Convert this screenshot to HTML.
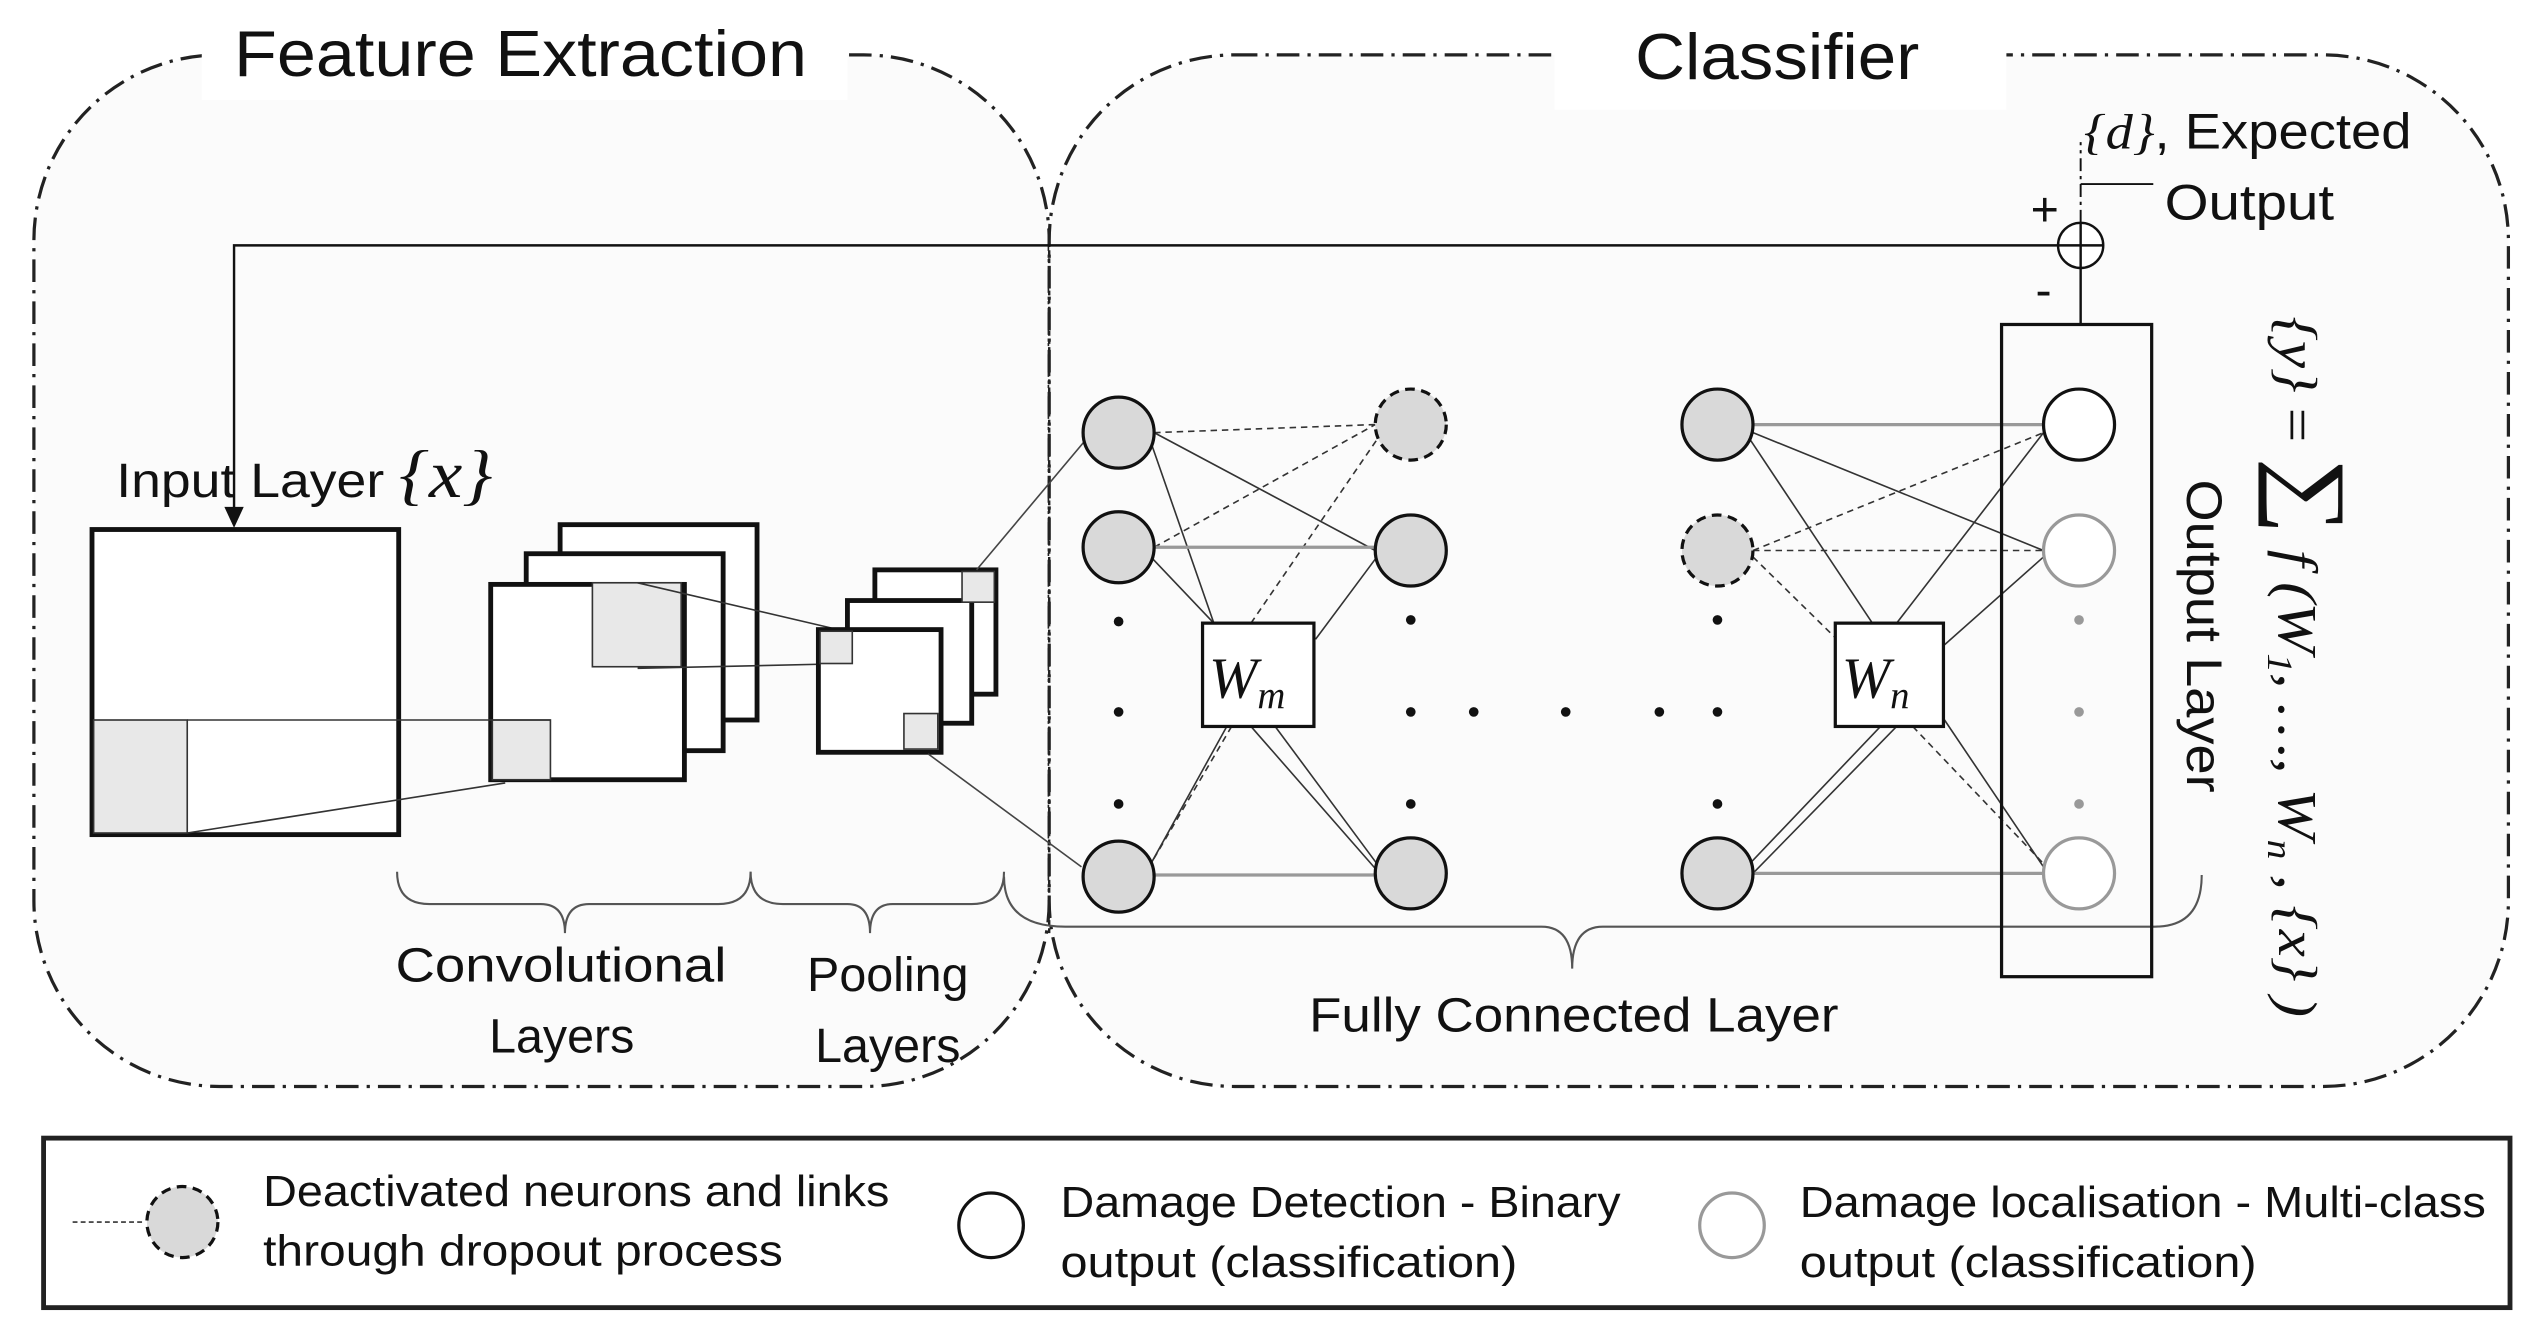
<!DOCTYPE html>
<html><head><meta charset="utf-8"><style>
html,body{margin:0;padding:0;background:#fff;}
svg{display:block;}
text{font-family:"Liberation Sans",sans-serif;fill:#111;}
.it{font-family:"Liberation Serif",serif;font-style:italic;}
</style></head><body>
<svg width="2531" height="1327" viewBox="0 0 1568 822" preserveAspectRatio="none" xmlns="http://www.w3.org/2000/svg">
<rect width="1568" height="822" fill="#fff"/>
<rect x="21" y="34" width="629" height="639" rx="115" fill="#fbfbfb" stroke="#222" stroke-width="2" stroke-dasharray="14,5,2,5"/>
<rect x="650" y="34" width="904" height="639" rx="115" fill="#fbfbfb" stroke="#222" stroke-width="2" stroke-dasharray="14,5,2,5"/>
<rect x="125" y="0" width="400" height="62" fill="#fff"/>
<rect x="963" y="0" width="280" height="68" fill="#fff"/>
<text x="145" y="47" font-size="40" textLength="355" lengthAdjust="spacingAndGlyphs">Feature Extraction</text>
<text x="1013" y="49" font-size="40" textLength="176" lengthAdjust="spacingAndGlyphs">Classifier</text>
<line x1="650" y1="150" x2="650" y2="580" stroke="#222" stroke-width="1.5" stroke-dasharray="3,2"/>
<polyline points="1276,152 145,152 145,318" fill="none" stroke="#111" stroke-width="1.5"/>
<polygon points="139,314 151,314 145,327" fill="#111"/>
<circle cx="1289" cy="152" r="14" fill="#fff" stroke="#111" stroke-width="1.5"/>
<line x1="1275" y1="152" x2="1303" y2="152" stroke="#111" stroke-width="1.5"/>
<line x1="1289" y1="138" x2="1289" y2="166" stroke="#111" stroke-width="1.5"/>
<line x1="1289" y1="138" x2="1289" y2="88" stroke="#111" stroke-width="1.2" stroke-dasharray="8,3,2,3"/>
<line x1="1289" y1="114" x2="1334" y2="114" stroke="#111" stroke-width="1.2"/>
<line x1="1289" y1="166" x2="1289" y2="201" stroke="#111" stroke-width="1.5"/>
<text x="1258" y="140" font-size="30">+</text>
<text x="1261" y="190" font-size="30">-</text>
<text x="1291" y="92" font-size="31" textLength="203" lengthAdjust="spacingAndGlyphs"><tspan class="it">{d}</tspan>, Expected</text>
<text x="1341" y="136" font-size="31" textLength="105" lengthAdjust="spacingAndGlyphs">Output</text>
<rect x="57" y="328" width="190" height="189" fill="#fff" stroke="#111" stroke-width="3"/>
<rect x="58" y="446" width="58" height="70" fill="#e8e8e8" stroke="#333" stroke-width="1"/>
<text x="72" y="308" font-size="30" textLength="233" lengthAdjust="spacingAndGlyphs">Input Layer <tspan class="it" font-size="42">{x}</tspan></text>
<rect x="347" y="325" width="122" height="121" fill="#fff" stroke="#111" stroke-width="3"/>
<rect x="326" y="343" width="122" height="122" fill="#fff" stroke="#111" stroke-width="3"/>
<rect x="304" y="362" width="120" height="121" fill="#fff" stroke="#111" stroke-width="3"/>
<rect x="367" y="361" width="55" height="52" fill="#e8e8e8" stroke="#333" stroke-width="1"/>
<rect x="305" y="446" width="36" height="37" fill="#e8e8e8" stroke="#333" stroke-width="1"/>
<line x1="116" y1="446" x2="341" y2="446" stroke="#333" stroke-width="1"/>
<line x1="116" y1="516" x2="313" y2="485" stroke="#333" stroke-width="1"/>
<line x1="395" y1="361" x2="515" y2="389" stroke="#333" stroke-width="1"/>
<line x1="395" y1="414" x2="528" y2="411" stroke="#333" stroke-width="1"/>
<rect x="542" y="353" width="75" height="77" fill="#fff" stroke="#111" stroke-width="3"/>
<rect x="525" y="372" width="77" height="76" fill="#fff" stroke="#111" stroke-width="3"/>
<rect x="507" y="390" width="76" height="76" fill="#fff" stroke="#111" stroke-width="3"/>
<rect x="596" y="354" width="20" height="19" fill="#e8e8e8" stroke="#333" stroke-width="1"/>
<rect x="508" y="391" width="20" height="20" fill="#e8e8e8" stroke="#333" stroke-width="1"/>
<rect x="560" y="442" width="21" height="22" fill="#e8e8e8" stroke="#333" stroke-width="1"/>
<line x1="605" y1="353" x2="673" y2="272" stroke="#444" stroke-width="1"/>
<line x1="575" y1="467" x2="670" y2="537" stroke="#444" stroke-width="1"/>
<g fill="none" stroke="#555" stroke-width="1.3">
<path d="M246,540 Q246,560 266,560 L335,560 Q350,560 350,578 Q350,560 365,560 L445,560 Q465,560 465,540"/>
<path d="M465,540 Q465,560 485,560 L525,560 Q539,560 539,578 Q539,560 553,560 L602,560 Q622,560 622,540"/>
<path d="M622,543 Q622,574 660,574 L955,574 Q974,574 974,600 Q974,574 993,574 L1335,574 Q1364,574 1364,542"/>
</g>
<text x="245" y="608" font-size="30" textLength="205" lengthAdjust="spacingAndGlyphs">Convolutional</text>
<text x="348" y="652" font-size="30" text-anchor="middle">Layers</text>
<text x="550" y="614" font-size="30" text-anchor="middle">Pooling</text>
<text x="550" y="658" font-size="30" text-anchor="middle">Layers</text>
<text x="811" y="639" font-size="30" textLength="328" lengthAdjust="spacingAndGlyphs">Fully Connected  Layer</text>
<g stroke="#333" stroke-width="1" fill="none">
<line x1="715" y1="268" x2="852" y2="341"/>
<line x1="713" y1="274" x2="752" y2="386"/>
<line x1="713" y1="345" x2="752" y2="386"/>
<line x1="815" y1="396" x2="853" y2="345"/>
<line x1="713" y1="535" x2="760" y2="450"/>
<line x1="775" y1="450" x2="852" y2="538"/>
<line x1="790" y1="450" x2="853" y2="535"/>
<line x1="1086" y1="268" x2="1266" y2="341"/>
<line x1="1084" y1="272" x2="1160" y2="386"/>
<line x1="1175" y1="386" x2="1266" y2="268"/>
<line x1="1204" y1="400" x2="1266" y2="345"/>
<line x1="1084" y1="535" x2="1165" y2="450"/>
<line x1="1086" y1="541" x2="1175" y2="450"/>
<line x1="1204" y1="445" x2="1266" y2="537"/>
</g>
<g stroke="#333" stroke-width="1" stroke-dasharray="4,3" fill="none">
<line x1="715" y1="268" x2="852" y2="263"/>
<line x1="715" y1="339" x2="852" y2="263"/>
<line x1="775" y1="386" x2="856" y2="268"/>
<line x1="763" y1="450" x2="713" y2="535"/>
<line x1="1086" y1="341" x2="1266" y2="341"/>
<line x1="1086" y1="341" x2="1266" y2="268"/>
<line x1="1086" y1="345" x2="1137" y2="395"/>
<line x1="1185" y1="450" x2="1266" y2="535"/>
</g>
<g stroke="#999" stroke-width="2">
<line x1="715" y1="339" x2="852" y2="339"/>
<line x1="715" y1="542" x2="852" y2="542"/>
<line x1="1086" y1="263" x2="1266" y2="263"/>
<line x1="1086" y1="541" x2="1266" y2="541"/>
</g>
<rect x="745" y="386" width="69" height="64" fill="#fff" stroke="#111" stroke-width="2"/>
<text x="749" y="432" font-size="36" class="it">W<tspan font-size="24" dy="7">m</tspan></text>
<rect x="1137" y="386" width="67" height="64" fill="#fff" stroke="#111" stroke-width="2"/>
<text x="1141" y="432" font-size="36" class="it">W<tspan font-size="24" dy="7">n</tspan></text>
<g fill="#d9d9d9" stroke="#111" stroke-width="2">
<circle cx="693" cy="268" r="22"/><circle cx="693" cy="339" r="22"/><circle cx="693" cy="543" r="22"/>
<circle cx="874" cy="341" r="22"/><circle cx="874" cy="541" r="22"/>
<circle cx="1064" cy="263" r="22"/><circle cx="1064" cy="541" r="22"/>
<circle cx="874" cy="263" r="22" stroke-dasharray="6,4"/>
<circle cx="1064" cy="341" r="22" stroke-dasharray="6,4"/>
</g>
<g fill="#111">
<circle cx="693" cy="385" r="3"/><circle cx="693" cy="441" r="3"/><circle cx="693" cy="498" r="3"/>
<circle cx="874" cy="384" r="3"/><circle cx="874" cy="441" r="3"/><circle cx="874" cy="498" r="3"/>
<circle cx="913" cy="441" r="3"/><circle cx="970" cy="441" r="3"/><circle cx="1028" cy="441" r="3"/>
<circle cx="1064" cy="384" r="3"/><circle cx="1064" cy="441" r="3"/><circle cx="1064" cy="498" r="3"/>
</g>
<rect x="1240" y="201" width="93" height="404" fill="none" stroke="#111" stroke-width="2"/>
<circle cx="1288" cy="263" r="22" fill="#fff" stroke="#111" stroke-width="2"/>
<circle cx="1288" cy="341" r="22" fill="#fff" stroke="#999" stroke-width="2"/>
<circle cx="1288" cy="541" r="22" fill="#fff" stroke="#999" stroke-width="2"/>
<g fill="#999"><circle cx="1288" cy="384" r="3"/><circle cx="1288" cy="441" r="3"/><circle cx="1288" cy="498" r="3"/></g>
<text transform="translate(1355,297) rotate(90)" font-size="31" textLength="194" lengthAdjust="spacingAndGlyphs">Output Layer</text>
<text transform="translate(1412,196) rotate(90)" font-size="34" class="it" textLength="434" lengthAdjust="spacingAndGlyphs">{y} <tspan font-style="normal">=</tspan> <tspan font-size="60" font-style="normal">∑</tspan> f (W<tspan font-size="22" dy="7">1</tspan><tspan dy="-7">, …, W</tspan><tspan font-size="22" dy="7">n</tspan><tspan dy="-7"> , {x} )</tspan></text>
<rect x="27" y="705" width="1528" height="105" fill="#fff" stroke="#222" stroke-width="3"/>
<line x1="45" y1="757" x2="90" y2="757" stroke="#333" stroke-width="1" stroke-dasharray="3,2"/>
<circle cx="113" cy="757" r="22" fill="#d9d9d9" stroke="#111" stroke-width="2" stroke-dasharray="6,4"/>
<text x="163" y="747" font-size="27" textLength="388" lengthAdjust="spacingAndGlyphs">Deactivated neurons and links</text>
<text x="163" y="784" font-size="27" textLength="322" lengthAdjust="spacingAndGlyphs">through dropout process</text>
<circle cx="614" cy="759" r="20" fill="#fff" stroke="#111" stroke-width="2"/>
<text x="657" y="754" font-size="27" textLength="347" lengthAdjust="spacingAndGlyphs">Damage Detection - Binary</text>
<text x="657" y="791" font-size="27" textLength="283" lengthAdjust="spacingAndGlyphs">output (classification)</text>
<circle cx="1073" cy="759" r="20" fill="#fff" stroke="#999" stroke-width="2"/>
<text x="1115" y="754" font-size="27" textLength="425" lengthAdjust="spacingAndGlyphs">Damage localisation - Multi-class</text>
<text x="1115" y="791" font-size="27" textLength="283" lengthAdjust="spacingAndGlyphs">output (classification)</text>
</svg>
</body></html>
